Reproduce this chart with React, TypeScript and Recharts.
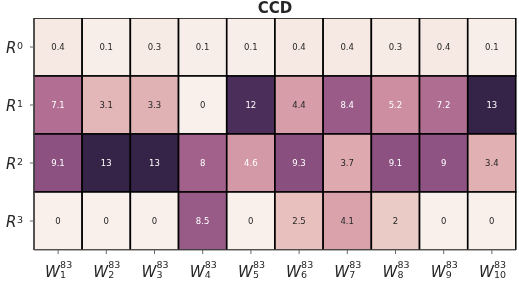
import React from 'react';
import { BarChart, Bar, XAxis, YAxis } from 'recharts';

const columns = ['1', '2', '3', '4', '5', '6', '7', '8', '9', '10'];
const rowLabels = ['0', '1', '2', '3'];
const r0 = [0.4, 0.1, 0.3, 0.1, 0.1, 0.4, 0.4, 0.3, 0.4, 0.1];
const r1 = [7.1, 3.1, 3.3, 0, 12, 4.4, 8.4, 5.2, 7.2, 13];
const r2 = [9.1, 13, 13, 8, 4.6, 9.3, 3.7, 9.1, 9, 3.4];
const r3 = [0, 0, 0, 8.5, 0, 2.5, 4.1, 2, 0, 0];
const ROWS = [r0, r1, r2, r3];
const VMIN = 0;
const VMAX = 13.45;

const LIGHT = 0.95, DARK = 0.15, START = 0, ROT = 0.4, HUE = 0.8;

function cubehelixRGB(v: number): [number, number, number] {
  const t = Math.min(1, Math.max(0, (v - VMIN) / (VMAX - VMIN)));
  const x = LIGHT + (DARK - LIGHT) * t;
  const phi = 2 * Math.PI * (START / 3 + ROT * x);
  const a = (HUE * x * (1 - x)) / 2;
  const c = Math.cos(phi), s = Math.sin(phi);
  const r = x + a * (-0.14861 * c + 1.78277 * s);
  const g = x + a * (-0.29227 * c - 0.90649 * s);
  const b = x + a * (1.97294 * c);
  const cl = (u: number) => Math.min(1, Math.max(0, u));
  return [cl(r), cl(g), cl(b)];
}
function toHex(rgb: [number, number, number]) {
  return '#' + rgb.map((u) => Math.round(u * 255).toString(16).padStart(2, '0')).join('');
}
function lum(rgb: [number, number, number]) {
  const lin = rgb.map((u) => (u <= 0.03928 ? u / 12.92 : Math.pow((u + 0.055) / 1.055, 2.4)));
  return 0.2126 * lin[0] + 0.7152 * lin[1] + 0.0722 * lin[2];
}

const data = columns.map((c) => ({ name: c, r0: 1, r1: 1, r2: 1, r3: 1 }));

const FONT = "'DejaVu Sans', sans-serif";

function makeShape(rowIdx: number) {
  return (props: any) => {
    const { x, y, width, height, index } = props;
    const rx = Math.min(x, x + width);
    const ry = Math.min(y, y + height);
    const w = Math.abs(width);
    const h = Math.abs(height);
    const v = ROWS[rowIdx][index];
    const rgb = cubehelixRGB(v);
    const txt = lum(rgb) > 0.408 ? '#262626' : '#ffffff';
    return (
      <g>
        <rect x={rx} y={ry} width={w} height={h} fill={toHex(rgb)} stroke="#000" strokeWidth={1.5} />
        <text x={rx + w / 2} y={ry + h / 2} textAnchor="middle" dominantBaseline="central" fontFamily={FONT} fontSize={8.5} fill={txt}>
          {String(v)}
        </text>
      </g>
    );
  };
}

const XTick = (props: any) => {
  const { x, payload } = props;
  const y0 = 250;
  return (
    <g transform={`translate(${x},${y0})`}>
      <text x={-13} y={27} fontFamily={FONT} fontStyle="italic" fontSize={15} fill="#262626">W</text>
      <text x={2} y={18} fontFamily={FONT} fontSize={9.5} fill="#262626">83</text>
      <text x={2} y={28} fontFamily={FONT} fontSize={9.5} fill="#262626">{payload.value}</text>
    </g>
  );
};

const YTick = (props: any) => {
  const { y, payload } = props;
  const idx = Math.floor(payload.value);
  return (
    <g transform={`translate(0,${y})`}>
      <text x={6} y={6} fontFamily={FONT} fontStyle="italic" fontSize={15} fill="#262626">R</text>
      <text x={17} y={1.5} fontFamily={FONT} fontSize={9.5} fill="#262626">{rowLabels[idx]}</text>
    </g>
  );
};

export default function App() {
  return (
    <div style={{ position: 'fixed', left: 0, top: 0, width: 519, height: 282, background: '#fff' }}>
      <div style={{ position: 'absolute', left: 34, width: 482, top: -1, textAlign: 'center', fontFamily: FONT, fontWeight: 'bold', fontSize: 15, color: '#262626', lineHeight: '18px' }}>
        CCD
      </div>
      <BarChart width={519} height={282} data={data} margin={{ top: 18, right: 3, bottom: 0, left: 0 }} barCategoryGap={0} barGap={0}>
        <XAxis dataKey="name" type="category" height={32} tick={<XTick />} tickSize={4} tickLine={{ stroke: '#666' }} axisLine={{ stroke: '#666' }} interval={0} />
        <YAxis type="number" domain={[0, 4]} reversed ticks={[0.5, 1.5, 2.5, 3.5]} width={34} tick={<YTick />} tickSize={4} tickLine={{ stroke: '#666' }} axisLine={{ stroke: '#666' }} allowDataOverflow />
        <Bar dataKey="r0" stackId="a" isAnimationActive={false} shape={makeShape(0)} />
        <Bar dataKey="r1" stackId="a" isAnimationActive={false} shape={makeShape(1)} />
        <Bar dataKey="r2" stackId="a" isAnimationActive={false} shape={makeShape(2)} />
        <Bar dataKey="r3" stackId="a" isAnimationActive={false} shape={makeShape(3)} />
      </BarChart>
    </div>
  );
}
